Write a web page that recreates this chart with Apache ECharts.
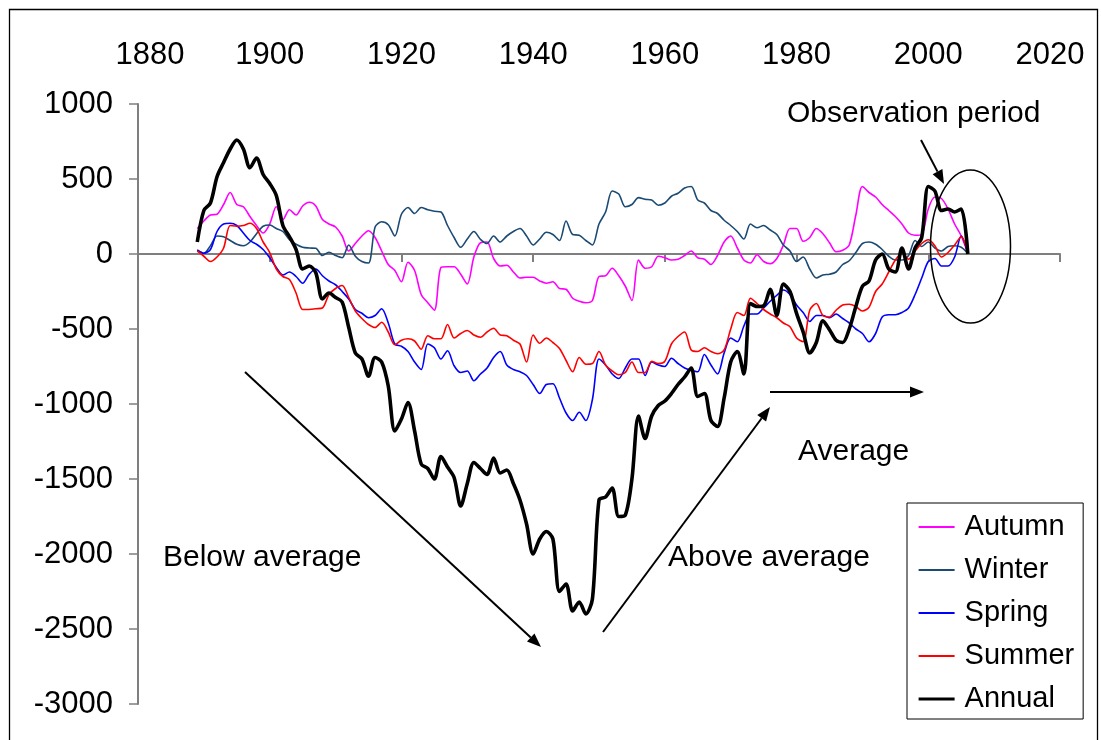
<!DOCTYPE html>
<html>
<head>
<meta charset="utf-8">
<script src="https://cdn.jsdelivr.net/npm/echarts@6/dist/echarts.min.js"></script>
<style>html,body{margin:0;padding:0;background:#fff}#chart{width:1101px;height:740px}</style>
</head>
<body>
<div id="chart"></div>
<script>
// ---------- data ----------
const years = [1889,1890,1891,1892,1893,1894,1895,1896,1897,1898,1899,
1900,1901,1902,1903,1904,1905,1906,1907,1908,1909,
1910,1911,1912,1913,1914,1915,1916,1917,1918,1919,
1920,1921,1922,1923,1924,1925,1926,1927,1928,1929,
1930,1931,1932,1933,1934,1935,1936,1937,1938,1939,
1940,1941,1942,1943,1944,1945,1946,1947,1948,1949,
1950,1951,1952,1953,1954,1955,1956,1957,1958,1959,
1960,1961,1962,1963,1964,1965,1966,1967,1968,1969,
1970,1971,1972,1973,1974,1975,1976,1977,1978,1979,
1980,1981,1982,1983,1984,1985,1986,1987,1988,1989,
1990,1991,1992,1993,1994,1995,1996,1997,1998,1999,
2000,2001,2002,2003,2004,2005,2006];

const autumn = [170,220,260,265,330,410,330,315,250,190,140,
200,315,230,295,260,320,345,320,230,200,
180,120,20,70,120,155,110,20,-70,-110,
-185,-55,-110,-270,-325,-375,-90,-85,-85,-135,
-200,-20,75,80,-30,-80,-75,-120,-160,-155,
-155,-180,-195,-185,-230,-235,-295,-315,-325,-310,
-150,-145,-95,-145,-215,-310,-40,-95,-85,-15,
-25,-40,-35,-10,20,-25,-35,-70,-10,80,
120,40,-40,-60,-5,-50,-65,-30,60,170,
170,85,110,170,135,75,15,25,60,260,
450,410,380,330,290,250,200,140,125,130,
300,380,370,300,200,120,5];

const winter = [27,5,55,120,115,90,65,55,80,135,185,
193,170,150,95,65,45,40,38,-10,12,
-10,-25,60,-15,-50,-60,180,215,195,120,
265,310,270,310,295,285,280,190,110,45,
100,150,98,70,120,80,120,150,170,120,
60,100,145,130,90,220,130,125,90,60,
200,280,420,400,315,330,376,365,360,325,
340,385,405,440,450,360,340,290,270,225,
190,150,100,200,175,190,160,130,60,20,
-50,-20,-100,-160,-140,-135,-120,-70,-45,10,
70,80,65,30,-15,-40,-40,-10,90,50,
80,40,20,50,55,45,5];

const spring = [25,5,30,150,200,205,190,140,90,65,30,
-25,-90,-140,-120,-150,-195,-135,-100,-145,-180,
-205,-250,-300,-370,-395,-425,-410,-365,-460,-600,
-615,-650,-720,-770,-600,-625,-700,-645,-745,-790,
-780,-845,-800,-760,-690,-650,-740,-770,-785,-810,
-870,-930,-870,-865,-960,-1060,-1110,-1055,-1110,-970,
-700,-740,-800,-830,-760,-700,-700,-810,-720,-740,
-750,-695,-730,-760,-775,-785,-670,-740,-800,-660,
-560,-585,-480,-400,-400,-360,-315,-275,-240,-270,
-340,-390,-450,-410,-410,-425,-400,-430,-460,-500,
-530,-585,-530,-420,-405,-405,-390,-360,-270,-160,
-50,-30,-80,-80,-20,120,5];

const summer = [20,-15,-50,-20,40,190,185,190,205,170,80,
10,-100,-150,-170,-260,-370,-370,-365,-360,-270,
-230,-210,-290,-380,-430,-470,-490,-455,-520,-605,
-575,-565,-580,-635,-545,-565,-565,-470,-560,-530,
-510,-540,-555,-520,-495,-540,-545,-575,-600,-720,
-540,-595,-560,-590,-630,-710,-785,-690,-735,-730,
-650,-740,-780,-805,-790,-720,-790,-790,-715,-730,
-715,-600,-550,-520,-640,-650,-625,-650,-665,-640,
-500,-390,-410,-295,-330,-370,-400,-425,-460,-485,
-560,-585,-375,-330,-410,-420,-375,-340,-335,-350,
-380,-355,-250,-200,-120,-40,5,-35,20,70,
95,55,-20,10,60,115,5];

const annual = [80,290,340,515,610,700,760,700,575,640,530,
470,390,190,115,30,-100,-80,-125,-300,-260,
-290,-320,-490,-660,-700,-815,-690,-720,-880,-1180,
-1100,-990,-1180,-1400,-1430,-1500,-1350,-1420,-1490,-1680,
-1530,-1390,-1430,-1470,-1360,-1460,-1440,-1530,-1640,-1800,
-2000,-1900,-1850,-1900,-2250,-2200,-2380,-2320,-2400,-2300,
-1640,-1620,-1560,-1750,-1740,-1500,-1080,-1230,-1080,-1010,
-980,-930,-870,-820,-760,-950,-930,-1110,-1150,-960,
-720,-650,-800,-330,-350,-345,-235,-410,-200,-250,
-396,-520,-660,-590,-445,-505,-575,-590,-500,-350,
-215,-180,-40,0,-100,-120,40,-100,40,110,
450,420,290,300,280,300,0];

const seriesNames = ['Autumn','Winter','Spring','Summer','Annual'];
const seriesValues = [autumn, winter, spring, summer, annual];
const seriesColors = ['#FF00FF','#1B4A73','#0000FF','#FF0000','#000000'];
const seriesWidths = [1.6,1.6,1.6,1.6,3.6];

const xTicks = {min:1880, max:2020, step:20};
const yTicks = {min:-3000, max:1000, step:500};

const annotations = [
  {text:'Observation period', x:787, y:114},
  {text:'Average', x:798, y:452},
  {text:'Below average', x:163, y:558},
  {text:'Above average', x:668, y:558}
];

// ---------- chart ----------
const FONT = "'Liberation Sans', Arial, sans-serif";
const chart = echarts.init(document.getElementById('chart'), null, {renderer:'canvas'});

function arrow(x1,y1,x2,y2){
  const ang = Math.atan2(y2-y1, x2-x1);
  const L = 14, W = 5.5;
  const bx = x2 - L*Math.cos(ang), by = y2 - L*Math.sin(ang);
  const px = -Math.sin(ang)*W, py = Math.cos(ang)*W;
  return [
    {type:'line', shape:{x1:x1,y1:y1,x2:bx,y2:by}, style:{stroke:'#000', lineWidth:2}, z:100},
    {type:'polygon', shape:{points:[[x2,y2],[bx+px,by+py],[bx-px,by-py]]}, style:{fill:'#000'}, z:100}
  ];
}

const graphics = [
  {type:'rect', shape:{x:9.5,y:9.5,width:1088,height:760}, style:{fill:'none', stroke:'#000', lineWidth:1.3}, z:-1},
  {type:'ellipse', shape:{cx:970.5, cy:246.5, rx:40, ry:76.5}, style:{fill:'none', stroke:'#000', lineWidth:1.5}, z:100}
]
.concat(arrow(245,372,541,647))
.concat(arrow(603,632,770,407))
.concat(arrow(770,392,924,392))
.concat(arrow(921,140,944,184))
.concat(annotations.map(a => ({
  type:'text', x:a.x, y:a.y, z:100,
  style:{text:a.text, font:'30px ' + FONT, fill:'#000', align:'left', verticalAlign:'middle'}
})));

const plain = v => String(v);
const xLabel = v => v === xTicks.min ? '{first|' + v + '}' : (v === xTicks.max ? '{last|' + v + '}' : String(v));

const option = {
  backgroundColor:'#fff',
  animation:false,
  textStyle:{fontFamily:FONT},
  grid:{left:138, top:104, width:922, height:600, containLabel:false},
  xAxis:[
    {type:'value', min:xTicks.min, max:xTicks.max, interval:xTicks.step, position:'top',
     axisLine:{show:false, onZero:false}, axisTick:{show:false}, splitLine:{show:false},
     axisLabel:{fontSize:31, color:'#000', margin:33, fontFamily:FONT, formatter:xLabel,
       rich:{
         first:{fontSize:31, color:'#000', fontFamily:FONT, padding:[0,0,0,24]},
         last:{fontSize:31, color:'#000', fontFamily:FONT, padding:[0,20,0,0]}
       }}},
    {type:'value', min:xTicks.min, max:xTicks.max, interval:xTicks.step, position:'bottom',
     axisLine:{show:true, onZero:true, lineStyle:{color:'#7f7f7f', width:2}},
     axisTick:{show:true, length:8, inside:false, lineStyle:{color:'#7f7f7f', width:2}},
     axisLabel:{show:false}, splitLine:{show:false}}
  ],
  yAxis:{type:'value', min:yTicks.min, max:yTicks.max, interval:yTicks.step,
     axisLine:{show:true, onZero:false, lineStyle:{color:'#7f7f7f', width:2}},
     axisTick:{show:true, length:9, inside:false, lineStyle:{color:'#7f7f7f', width:1.5}},
     axisLabel:{fontSize:31, color:'#000', margin:25, fontFamily:FONT, formatter:plain},
     splitLine:{show:false}},
  legend:{
    orient:'vertical', left:907, top:503,
    padding:[9,9,5,10], itemWidth:36, itemHeight:14, itemGap:13,
    borderColor:'#000', borderWidth:1, backgroundColor:'#fff',
    itemStyle:{opacity:0},
    textStyle:{fontSize:29, color:'#000', fontFamily:FONT, lineHeight:30, padding:[0,0,0,5]},
    data: seriesNames.map((n,i) => ({name:n, lineStyle:{width:seriesWidths[i] > 2 ? 3.2 : 2, color:seriesColors[i]}}))
  },
  series: seriesNames.map((n,i) => ({
    name:n, type:'line', xAxisIndex:0,
    data: years.map((y,j) => [y, seriesValues[i][j]]),
    symbol:'none', smooth:0.3,
    lineStyle:{color:seriesColors[i], width:seriesWidths[i]},
    itemStyle:{color:seriesColors[i]},
    z: 2 + i
  })),
  graphic: graphics
};
chart.setOption(option);
</script>
</body>
</html>
